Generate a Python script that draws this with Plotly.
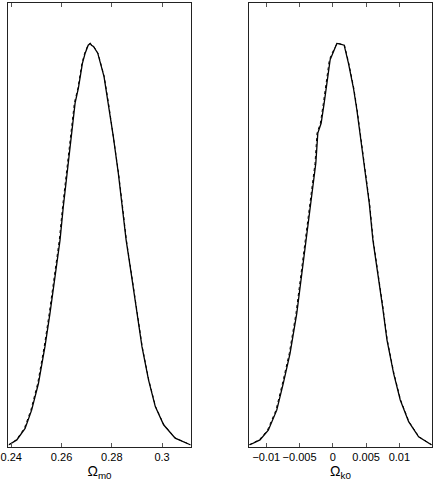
import plotly.graph_objects as go

# Omega_m0 posterior (solid)
om_x = [0.2391, 0.2422, 0.2455, 0.2481, 0.2508, 0.2534, 0.2554, 0.2577, 0.2594,
        0.2607, 0.2625, 0.2641, 0.2654, 0.2667, 0.2683, 0.2694, 0.2706, 0.2714,
        0.2719, 0.2727, 0.2744, 0.2769, 0.2786, 0.2806, 0.2826, 0.2842, 0.2857,
        0.2877, 0.2900, 0.2920, 0.2946, 0.2973, 0.3006, 0.3052, 0.3112]
om_p = [0.005, 0.016, 0.042, 0.083, 0.143, 0.226, 0.301, 0.391, 0.466,
        0.541, 0.631, 0.699, 0.775, 0.808, 0.864, 0.887, 0.905, 0.909,
        0.905, 0.902, 0.887, 0.834, 0.774, 0.699, 0.616, 0.541, 0.466,
        0.391, 0.301, 0.226, 0.151, 0.091, 0.050, 0.020, 0.005]

# second (dotted) estimate, almost on top of the solid one
om_x2 = [0.2390, 0.2420, 0.2452, 0.2478, 0.2505, 0.2531, 0.2551, 0.2574, 0.2591,
         0.2604, 0.2622, 0.2638, 0.2651, 0.2665, 0.2681, 0.2692, 0.2705, 0.2714,
         0.2720, 0.2728, 0.2745, 0.2770, 0.2787, 0.2807, 0.2827, 0.2843, 0.2858,
         0.2878, 0.2901, 0.2921, 0.2947, 0.2974, 0.3007, 0.3053, 0.3113]

# Omega_k0 posterior
ok_x = [-0.01245, -0.01095, -0.00970, -0.00843, -0.00744, -0.00643, -0.00542,
        -0.00467, -0.00402, -0.00316, -0.00256, -0.00226, -0.00176, -0.00131,
        -0.00090, -0.00041, 0.00009, 0.00060, 0.00099, 0.00170, 0.00235,
        0.00310, 0.00361, 0.00426, 0.00486, 0.00547, 0.00602, 0.00678,
        0.00747, 0.00813, 0.00913, 0.01013, 0.01139, 0.01289, 0.01480]
ok_p = [0.005, 0.016, 0.038, 0.083, 0.144, 0.211, 0.301, 0.391, 0.466,
        0.564, 0.639, 0.707, 0.729, 0.774, 0.819, 0.872, 0.890, 0.909,
        0.908, 0.905, 0.864, 0.808, 0.759, 0.684, 0.624, 0.549, 0.466,
        0.391, 0.316, 0.241, 0.166, 0.106, 0.057, 0.023, 0.005]
ok_x2 = [x - 0.00012 if i < 17 else x + 0.00005 for i, x in enumerate(ok_x)]

om_ticks = [0.24, 0.26, 0.28, 0.3]
om_labels = ['0.24', '0.26', '0.28', '0.3']
ok_ticks = [-0.01, -0.005, 0, 0.005, 0.01]
ok_labels = ['\u22120.01', '\u22120.005', '0', '0.005', '0.01']

line_col = '#222'
font = dict(family='Liberation Sans, Arial, sans-serif', size=11, color='black')

fig = go.Figure()
fig.add_trace(go.Scatter(x=om_x2, y=om_p, mode='lines', xaxis='x', yaxis='y',
                         line=dict(color='black', width=1, dash='dot')))
fig.add_trace(go.Scatter(x=om_x, y=om_p, mode='lines', xaxis='x', yaxis='y',
                         line=dict(color='black', width=1.3)))
fig.add_trace(go.Scatter(x=ok_x2, y=ok_p, mode='lines', xaxis='x2', yaxis='y2',
                         line=dict(color='black', width=1, dash='dot')))
fig.add_trace(go.Scatter(x=ok_x, y=ok_p, mode='lines', xaxis='x2', yaxis='y2',
                         line=dict(color='black', width=1.3)))

xcommon = dict(showline=True, linecolor=line_col, linewidth=1, mirror='allticks',
               ticks='inside', ticklen=4, tickcolor='#555', showgrid=False,
               zeroline=False, tickfont=font, automargin=False,
               title_font=dict(family=font['family'], size=14, color='black'),
               title_standoff=2)
ycommon = dict(showline=True, linecolor=line_col, linewidth=1, mirror=True,
               showticklabels=False, ticks='', showgrid=False, zeroline=False,
               range=[0, 1], fixedrange=True, automargin=False)

fig.update_layout(
    width=436, height=487,
    margin=dict(l=8, r=4, t=3, b=40),
    paper_bgcolor='white', plot_bgcolor='white',
    showlegend=False,
    xaxis=dict(domain=[0, 0.4316], range=[0.2387, 0.3115], tickvals=om_ticks,
               ticktext=om_labels, title_text='\u03a9<sub>m0</sub>', anchor='y', **xcommon),
    yaxis=dict(domain=[0, 1], anchor='x', **ycommon),
    xaxis2=dict(domain=[0.5684, 1], range=[-0.0126, 0.0149], tickvals=ok_ticks,
                ticktext=ok_labels, title_text='\u03a9<sub>k0</sub>', anchor='y2', **xcommon),
    yaxis2=dict(domain=[0, 1], anchor='x2', **ycommon),
)

# page body has an 8px default margin; drop it so the figure sits at 0,0
fig.write_html("out.html", config={'displayModeBar': False},
               post_script="document.body.style.margin='0';")
